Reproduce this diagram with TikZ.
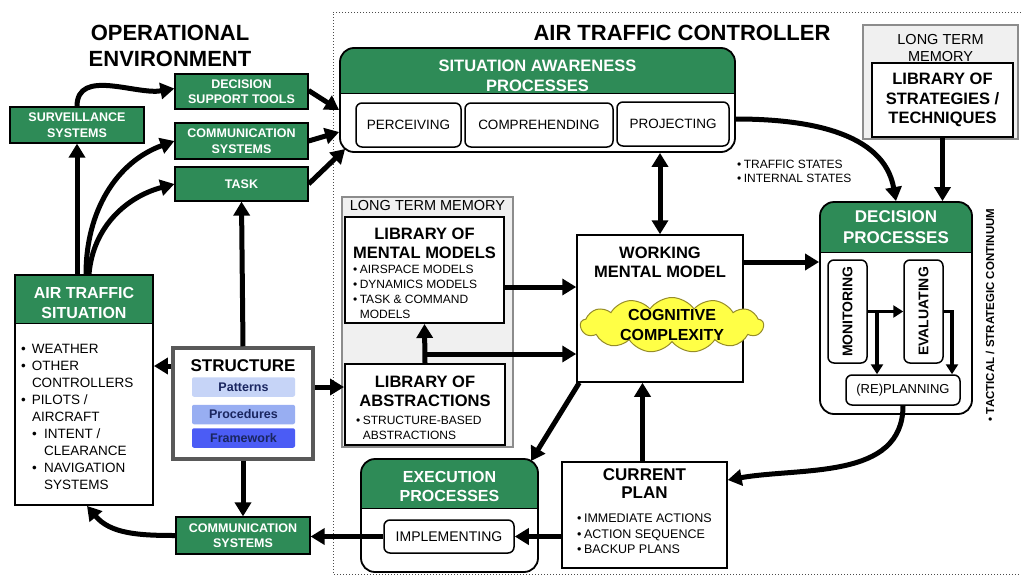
\documentclass[tikz,border=0pt]{standalone}
\usepackage{fontspec}
\setmainfont{Liberation Sans}
\setsansfont{Liberation Sans}
\usepackage{graphicx}
\usetikzlibrary{arrows.meta,shapes.symbols,positioning,calc}
\definecolor{atcGreen}{RGB}{46,139,87}
\definecolor{memGray}{RGB}{240,240,240}
\definecolor{cloudYellow}{RGB}{255,255,70}
\definecolor{cloudEdge}{RGB}{150,140,40}
\definecolor{patBlue}{RGB}{198,212,247}
\definecolor{procBlue}{RGB}{152,174,242}
\definecolor{frameBlue}{RGB}{75,92,245}
\definecolor{navyText}{RGB}{26,38,96}
\newcommand{\fsz}[2]{\fontsize{#1}{#2}\selectfont}
\newcommand{\listDot}[1][0.8em]{\makebox[#1][l]{\textbullet}}
\tikzset{
  every picture/.style={font=\sffamily, x=1pt, y=-1pt,
    >={Triangle[length=14pt,width=16pt]}},
  bigArrow/.style={->, line width=5pt},
  dblArrow/.style={<->, line width=5pt},
  smallArrow/.style={-{Triangle[length=10pt,width=12pt]}, line width=3.5pt}}

\begin{document}
\begin{tikzpicture}[
    greenBox/.style={
      draw, fill=atcGreen, text=white, line width=1.2pt,
      inner sep=0pt, align=center,
      font=\sffamily\bfseries\fsz{12.5}{15.5}},
    headBox/.style={
      draw, fill=white, line width=1.8pt, inner sep=0pt,
      path picture={
        \fill[atcGreen, sharp corners] (path picture bounding box.north west)
          rectangle ([yshift=-#1]path picture bounding box.north east);
        \draw[line width=1pt, sharp corners]
          ([yshift=-#1]path picture bounding box.north west)
          -- ([yshift=-#1]path picture bounding box.north east);}},
    headTitle/.style={text=white, align=center,
      font=\sffamily\bfseries\fsz{16.5}{20}},
    subBox/.style={draw, fill=white, rounded corners=6pt, line width=1.5pt,
      inner sep=0pt, font=\sffamily\fsz{13.5}{16}},
    memBox/.style={draw=black!45, fill=memGray, line width=1.3pt, inner sep=0pt},
    libBox/.style={draw, fill=white, line width=2pt, inner sep=0pt},
    plainBox/.style={draw, fill=white, line width=1.5pt, inner sep=0pt},
    libTitle/.style={align=center, font=\sffamily\bfseries\fsz{16.5}{19}},
    listText/.style={align=left, inner sep=0pt, font=\sffamily\fsz{12}{15}},
    structPart/.style={fill=#1, rounded corners=2pt, minimum width=103pt,
      minimum height=19.5pt, inner sep=0pt, text=navyText,
      font=\sffamily\bfseries\fsz{12.5}{15}}]

  \fill[white, use as bounding box] (0,0) rectangle (1021,576);
  \draw[dotted, line width=1pt, black!70]
    (1021,12) -- (333,12) -- (333,574) -- (1021,574);

  \node[align=center, font=\sffamily\bfseries\fsz{22}{26}] (opTitle)
    at (170,46) {OPERATIONAL\\ENVIRONMENT};
  \node[font=\sffamily\bfseries\fsz{22}{26}] (atcTitle)
    at (682,33) {AIR TRAFFIC CONTROLLER};

  \node[greenBox, minimum width=133pt, minimum height=35pt] (decSupport)
    at (241.5,91.5) {DECISION\\SUPPORT TOOLS};
  \node[greenBox, minimum width=134pt, minimum height=36pt] (survSys)
    at (77,125) {SURVEILLANCE\\SYSTEMS};
  \node[greenBox, minimum width=133pt, minimum height=36pt] (commTop)
    at (241.5,141) {COMMUNICATION\\SYSTEMS};
  \node[greenBox, minimum width=133pt, minimum height=34pt] (taskBox)
    at (241.5,184) {TASK};
  \node[greenBox, minimum width=134pt, minimum height=37pt] (commBot)
    at (243,535.5) {COMMUNICATION\\SYSTEMS};

  \node[headBox=48pt, minimum width=138pt, minimum height=230pt] (atsBox)
    at (84,390) {};
  \node[headTitle, font=\sffamily\bfseries\fsz{16}{20}] (atsTitle)
    at (84,303) {AIR TRAFFIC\\SITUATION};
  \node[listText, font=\sffamily\fsz{13.5}{17}, anchor=north west] (atsList)
    at (21,344) {\listDot WEATHER\\\listDot OTHER\\\hspace*{0.8em}CONTROLLERS\\
      \listDot PILOTS /\\\hspace*{0.8em}AIRCRAFT\\
      \hspace*{0.8em}\listDot[0.9em]INTENT /\\\hspace*{1.7em}CLEARANCE\\
      \hspace*{0.8em}\listDot[0.9em]NAVIGATION\\\hspace*{1.7em}SYSTEMS};

  \node[draw=black!65, line width=3.5pt, fill=white, minimum width=140pt,
    minimum height=111pt, inner sep=0pt] (structBox) at (243,403.5) {};
  \node[font=\sffamily\bfseries\fsz{17}{20}] (structTitle)
    at (243,366) {STRUCTURE};
  \node[structPart=patBlue] (patterns) at (243.5,387) {Patterns};
  \node[structPart=procBlue] (procedures) at (243.5,414.5) {Procedures};
  \node[structPart=frameBlue] (framework) at (243.5,438) {Framework};

  \node[headBox=45pt, rounded corners=14pt, minimum width=395pt,
    minimum height=104pt] (saBox) at (537.5,100) {};
  \node[headTitle] (saTitle) at (537.5,76) {SITUATION AWARENESS\\PROCESSES};
  \node[subBox, minimum width=105pt, minimum height=44pt] (perceiving)
    at (408.5,125) {PERCEIVING};
  \node[subBox, minimum width=148pt, minimum height=44pt] (comprehending)
    at (539,125) {COMPREHENDING};
  \node[subBox, minimum width=112pt, minimum height=44pt] (projecting)
    at (673,124) {PROJECTING};

  \node[memBox, minimum width=155pt, minimum height=114pt] (ltmTop)
    at (940.5,82) {};
  \node[align=center, font=\sffamily\fsz{14.5}{17}] (ltmTopLabel)
    at (940.5,48.5) {LONG TERM\\MEMORY};
  \node[libBox, minimum width=141pt, minimum height=74pt, align=center,
    font=\sffamily\bfseries\fsz{16.5}{19.5}] (stratLib)
    at (942.5,100) {LIBRARY OF\\STRATEGIES /\\TECHNIQUES};

  \node[memBox, minimum width=171pt, minimum height=250pt] (ltmMid)
    at (427.5,322) {};
  \node[font=\sffamily\fsz{14.5}{17}] (ltmMidLabel)
    at (427.5,206) {LONG TERM MEMORY};
  \node[libBox, minimum width=159pt, minimum height=106pt] (mentalLib)
    at (424.5,270) {};
  \node[libTitle] (mentalTitle) at (424.5,243.5) {LIBRARY OF\\MENTAL MODELS};
  \node[listText, anchor=north west] (mentalList) at (353,265)
    {\listDot[0.55em]AIRSPACE MODELS\\\listDot[0.55em]DYNAMICS MODELS\\
     \listDot[0.55em]TASK \& COMMAND\\\hspace*{0.55em}MODELS};
  \node[libBox, minimum width=160pt, minimum height=81pt] (abstractLib)
    at (425,404.5) {};
  \node[libTitle] (abstractTitle) at (425,391.5) {LIBRARY OF\\ABSTRACTIONS};
  \node[listText, anchor=north west] (abstractList) at (356,416)
    {\listDot[0.55em]STRUCTURE-BASED\\\hspace*{0.55em}ABSTRACTIONS};

  \node[plainBox, minimum width=166pt, minimum height=147pt] (wmmBox)
    at (660,308.5) {};
  \node[libTitle] (wmmTitle) at (660,262) {WORKING\\MENTAL MODEL};
  \node[cloud, cloud puffs=13, cloud puff arc=110, cloud ignores aspect,
    draw=cloudEdge, fill=cloudYellow, line width=1pt, inner sep=0pt,
    minimum width=183pt, minimum height=55pt] (cogCloud) at (672,325) {};
  \node[align=center, font=\sffamily\bfseries\fsz{16}{20}] (cogText)
    at (cogCloud.center) {COGNITIVE\\COMPLEXITY};

  \node[headBox=50pt, rounded corners=14pt, minimum width=152pt,
    minimum height=212pt] (decBox) at (896,308) {};
  \node[headTitle, font=\sffamily\bfseries\fsz{17}{21}] (decTitle)
    at (896,227.5) {DECISION\\PROCESSES};
  \node[subBox, minimum width=39pt, minimum height=103pt,
    font=\sffamily\bfseries\fsz{14}{16}] (monitoring)
    at (847.5,311.5) {\rotatebox{90}{MONITORING}};
  \node[subBox, minimum width=39pt, minimum height=103pt,
    font=\sffamily\bfseries\fsz{14}{16}] (evaluating)
    at (923.5,311.5) {\rotatebox{90}{EVALUATING}};
  \node[subBox, minimum width=114pt, minimum height=30pt,
    font=\sffamily\fsz{13}{15}] (replanning) at (903,390) {(RE)PLANNING};
  \node[rotate=90, font=\sffamily\bfseries\fsz{11.5}{13}] (continuum)
    at (990,315) {\textbullet{} TACTICAL / STRATEGIC CONTINUUM};
  \node[listText, font=\sffamily\fsz{12}{14}, anchor=north west] (stateList)
    at (737,160) {\listDot[0.55em]TRAFFIC STATES\\\listDot[0.55em]INTERNAL STATES};

  \node[plainBox, minimum width=165pt, minimum height=106pt] (planBox)
    at (644.5,515) {};
  \node[libTitle, font=\sffamily\bfseries\fsz{17}{18.5}] (planTitle)
    at (644.5,483.5) {CURRENT\\PLAN};
  \node[listText, font=\sffamily\fsz{12.5}{15.5}, anchor=north west] (planList)
    at (577,514) {\listDot[0.55em]IMMEDIATE ACTIONS\\\listDot[0.55em]ACTION SEQUENCE\\
      \listDot[0.55em]BACKUP PLANS};

  \node[headBox=49pt, rounded corners=14pt, minimum width=177pt,
    minimum height=113pt] (execBox) at (449.5,515.5) {};
  \node[headTitle, font=\sffamily\bfseries\fsz{16}{19}] (execTitle)
    at (449.5,486.5) {EXECUTION\\PROCESSES};
  \node[subBox, minimum width=130pt, minimum height=33pt,
    font=\sffamily\fsz{14}{16}] (implementing) at (449,536.5) {IMPLEMENTING};

  \draw[bigArrow] (survSys.south |- atsBox.north) -- (survSys.south);
  \draw[bigArrow] ([xshift=2pt]atsBox.north) to[out=90,in=200] (commTop.west);
  \draw[bigArrow] ([xshift=5pt]atsBox.north) to[out=85,in=195] (taskBox.west);
  \draw[bigArrow] (survSys.north) to[out=90,in=190] ([yshift=3pt]decSupport.west);
  \draw[bigArrow] ([yshift=1pt]decSupport.east) -- ([yshift=-10pt]saBox.west);
  \draw[bigArrow] (commTop.east) -- ([yshift=-32pt]saBox.west);
  \draw[bigArrow] (taskBox.east) -- ([xshift=6pt,yshift=-49pt]saBox.west);
  \draw[bigArrow] (structBox.north) -- (taskBox.south);
  \draw[bigArrow] (structTitle -| structBox.west) -- (structTitle -| atsBox.east);
  \draw[bigArrow] (patterns -| structBox.east) -- (patterns -| abstractLib.west);
  \draw[bigArrow] (structBox.south) -- (commBot.north);
  \draw[bigArrow] (commBot.west) to[out=180,in=-50] ([xshift=3pt]atsBox.south);
  \draw[bigArrow] (implementing.west) -- (implementing.west -| commBot.east);
  \draw[bigArrow] (implementing.east -| planBox.west) -- (implementing.east);
  \draw[bigArrow] ([xshift=-2pt]planBox.north) -- ([xshift=-2pt]planBox.north |- wmmBox.south);
  \draw[bigArrow] ([xshift=3pt]wmmBox.south west) -- ([xshift=-8pt,yshift=-3pt]execBox.north east);
  \draw[bigArrow] (replanning.south) to[out=-90,in=10] ([yshift=35pt]planBox.east);
  \draw[bigArrow] ([yshift=-19pt]saBox.east) to[out=0,in=100] (decBox.north);
  \draw[bigArrow] (stratLib.south) -- (stratLib.south |- decBox.north);
  \draw[dblArrow] (saBox.south -| wmmBox.north) -- (wmmBox.north);
  \draw[bigArrow] (wmmTitle -| wmmBox.east) -- (wmmTitle -| decBox.west);
  \draw[bigArrow] ([yshift=-17pt]mentalLib.east) -- ([yshift=-17pt]mentalLib.east -| wmmBox.west);
  \coordinate (abstractSplit) at ([yshift=9pt]abstractLib.north);
  \draw[bigArrow] (abstractLib.north) -- (mentalLib.south);
  \draw[bigArrow] (abstractSplit) -- (abstractSplit -| wmmBox.west);
  \draw[smallArrow] (monitoring.east) -- (evaluating.west);
  \draw[smallArrow] (monitoring.east) -| ([xshift=-26pt]replanning.north);
  \draw[smallArrow] (evaluating.east) -| ([xshift=49pt]replanning.north);
\end{tikzpicture}
\end{document}
